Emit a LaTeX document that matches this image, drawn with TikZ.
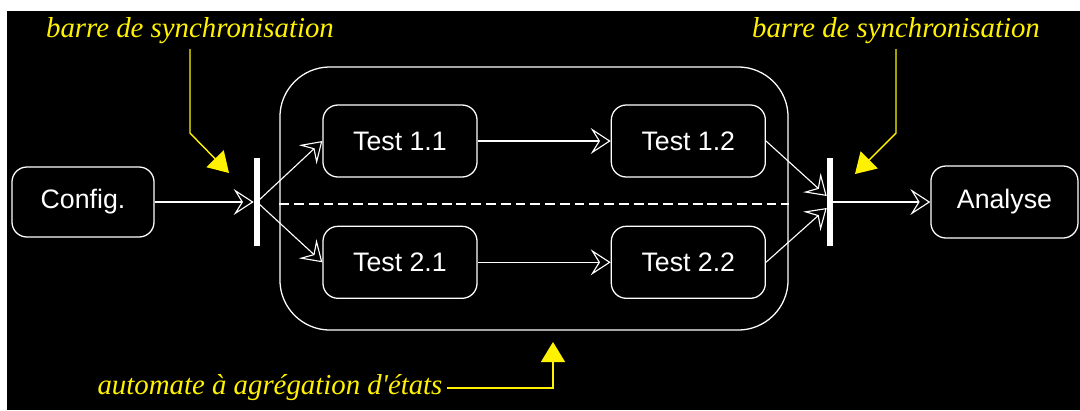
\documentclass[tikz,border=0pt]{standalone}
\usepackage{fontspec}
\setmainfont{Liberation Sans}
\newfontfamily\notefont{Liberation Serif}
\usetikzlibrary{arrows.meta, positioning, calc}

\begin{document}
\begin{tikzpicture}[
x=0.025cm, y=-0.025cm,
etat/.style={draw=white, line width=0.9pt, rounded corners=0.375cm, minimum width=3.85cm, minimum height=1.8cm, text=white, font=\fontsize{19}{22}\selectfont},
barre/.style={fill=white, draw=none, minimum width=0.15cm, minimum height=2.175cm, inner sep=0pt},
note/.style={text=yellow, font=\notefont\itshape\fontsize{20.5}{24}\selectfont},
arrow/.style={-{Stealth[open, length=5mm, width=6.5mm, inset=2mm]}, draw=white, line width=0.8pt},
renvoi/.style={-{Triangle[length=5mm, width=6mm]}, draw=yellow, line width=1pt}
]
\fill[white] (0,0) rectangle (1080,410);
\fill[black] (7,11) rectangle (1080,410);

% etats
\node[etat, minimum width=3.55cm, minimum height=1.75cm] (config) at (83,202) {Config.};
\node[barre, right=2.475cm of config] (bar1) {};
\node[draw=white, line width=0.9pt, rounded corners=1.25cm, minimum width=12.7cm, minimum height=6.575cm] (agreg) at (534,198.5) {};
\node[etat] (t11) at (400,141) {Test 1.1};
\node[etat, right=3.325cm of t11] (t12) {Test 1.2};
\node[etat, below=1.2cm of t11] (t21) {Test 2.1};
\node[etat, right=3.325cm of t21] (t22) {Test 2.2};
\node[barre] (bar2) at (830,202) {};
\node[etat, right=2.425cm of bar2, minimum width=3.675cm] (analyse) {Analyse};

\draw[white, line width=1.2pt, dash pattern=on 7pt off 3.5pt] ($(agreg.west)+(0,5.5)$) -- ($(agreg.east)+(0,5.5)$);

% transitions
\draw[arrow] (config) -- (bar1);
\draw[arrow] (bar1.center) -- (t11.west);
\draw[arrow] (bar1.center) -- (t21.west);
\draw[arrow] (t11) -- (t12);
\draw[arrow] (t21) -- (t22);
\draw[arrow] (t12.east) -- ($(bar2.west)+(0,-6)$);
\draw[arrow] (t22.east) -- ($(bar2.west)+(0,6)$);
\draw[arrow] (bar2) -- (analyse);

% annotations
\node[note] (nb1) at (190,31) {barre de synchronisation};
\node[note] (nb2) at (896,31) {barre de synchronisation};
\node[note] (nag) at (270,388) {automate à agrégation d'états};
\coordinate (c1) at (229,173);
\coordinate (c2) at (855,174);
\coordinate (c3) at (553,342);
\draw[renvoi] (nb1.south) -- ++(0,84) -- (c1);
\draw[renvoi] (nb2.south) -- ++(0,84) -- (c2);
\draw[renvoi] (nag.east) -- (c3 |- nag.east) -- (c3);
\end{tikzpicture}
\end{document}
